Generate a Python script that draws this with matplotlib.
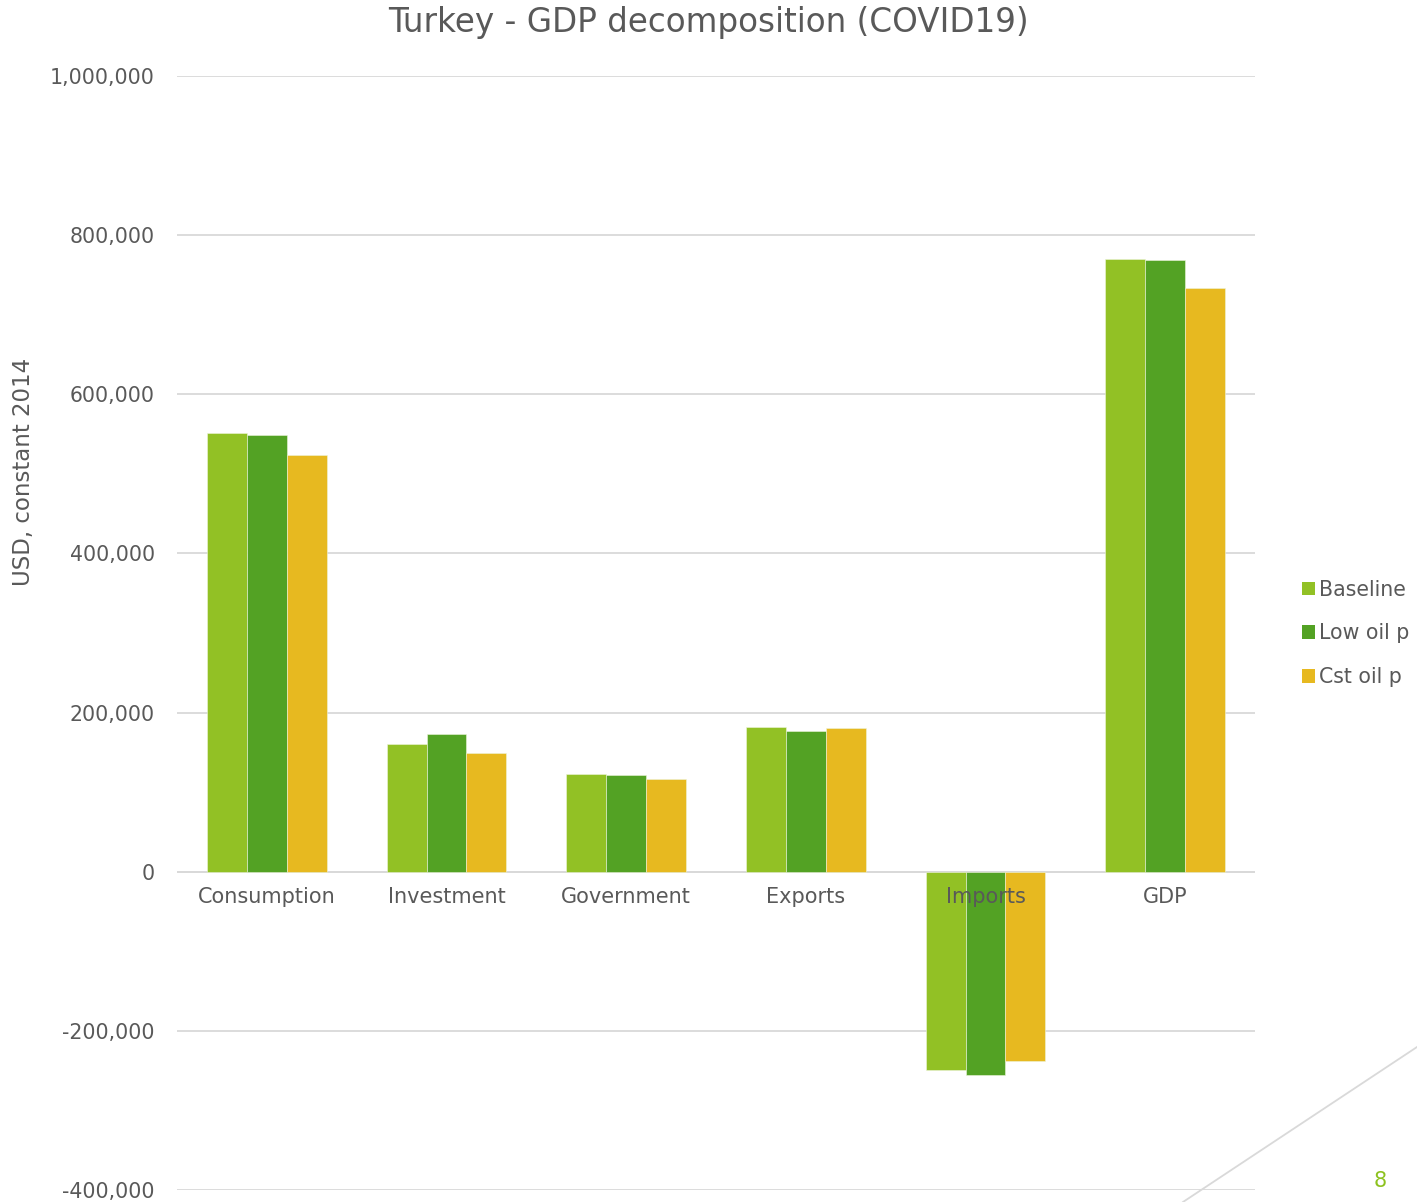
import matplotlib
matplotlib.use("Agg")
import matplotlib.pyplot as plt
import numpy as np
from matplotlib.lines import Line2D
from matplotlib.patches import Patch

categories = ["Consumption", "Investment", "Government", "Exports", "Imports", "GDP"]
baseline = [551500, 160800, 123100, 182200, -248700, 770100]
low_oil = [549000, 173400, 121900, 177100, -255000, 768800]
cst_oil = [523900, 149500, 116800, 180900, -237400, 733700]
series_names = ["Baseline", "Low oil p", "Cst oil p"]
colors = ["#92C125", "#53A224", "#E7B920"]
grey = "#595959"

plt.rcParams['font.family'] = ['DejaVu Sans']

fig = plt.figure(figsize=(14.17, 12.02), dpi=100)
ax = fig.add_axes([0.1249, 0.00998, 0.7608, 0.9268])

x = np.arange(len(categories))
w = 0.222
for i, (vals, c) in enumerate(zip([baseline, low_oil, cst_oil], colors)):
    ax.bar(x + (i - 1) * w, vals, w, color=c, edgecolor="#eef5dc", linewidth=0.4,
           zorder=2)

ax.set_xlim(-0.5, len(categories) - 0.5)
ax.set_ylim(-400000, 1000000)
ax.set_yticks(np.arange(-400000, 1000001, 200000))
ax.yaxis.set_major_formatter(matplotlib.ticker.FuncFormatter(lambda v, p: f"{int(v):,}"))
ax.tick_params(axis='y', length=0, pad=16, labelsize=14.8, labelcolor=grey)
ax.set_xticks([])
ax.grid(axis='y', color="#d9d9d9", linewidth=1.3, zorder=0)
ax.axhline(0, color="#d9d9d9", linewidth=1.3, zorder=1)
for s in ax.spines.values():
    s.set_visible(False)

for xi, name in zip(x, categories):
    ax.annotate(name, (xi, 0), xytext=(0, -11), textcoords="offset points",
                ha="center", va="top", fontsize=15, color=grey, zorder=5)

ax.set_ylabel("USD, constant 2014", fontsize=16.5, color=grey)
ax.yaxis.set_label_coords(-0.132, 0.645)

fig.text(0.5, 0.981, "Turkey - GDP decomposition (COVID19)", ha="center", va="center",
         fontsize=23.5, color=grey)

handles = [Patch(facecolor=c, label=n) for c, n in zip(colors, series_names)]
fig.legend(handles=handles, loc="center left", bbox_to_anchor=(0.9055, 0.473),
           frameon=False, fontsize=14.8, labelcolor=grey, handlelength=0.65,
           handleheight=0.65, handletextpad=0.2, labelspacing=1.15)

fig.add_artist(Line2D([1417 / 1417, 1183 / 1417], [1 - 1047 / 1202, 0],
                      transform=fig.transFigure, color="#d9d9d9", linewidth=1.3))
fig.text(1380 / 1417, 1 - 1181 / 1202, "8", ha="center", va="center",
         fontsize=15, color="#8DC21F")

fig.savefig("out.png", dpi=100)
